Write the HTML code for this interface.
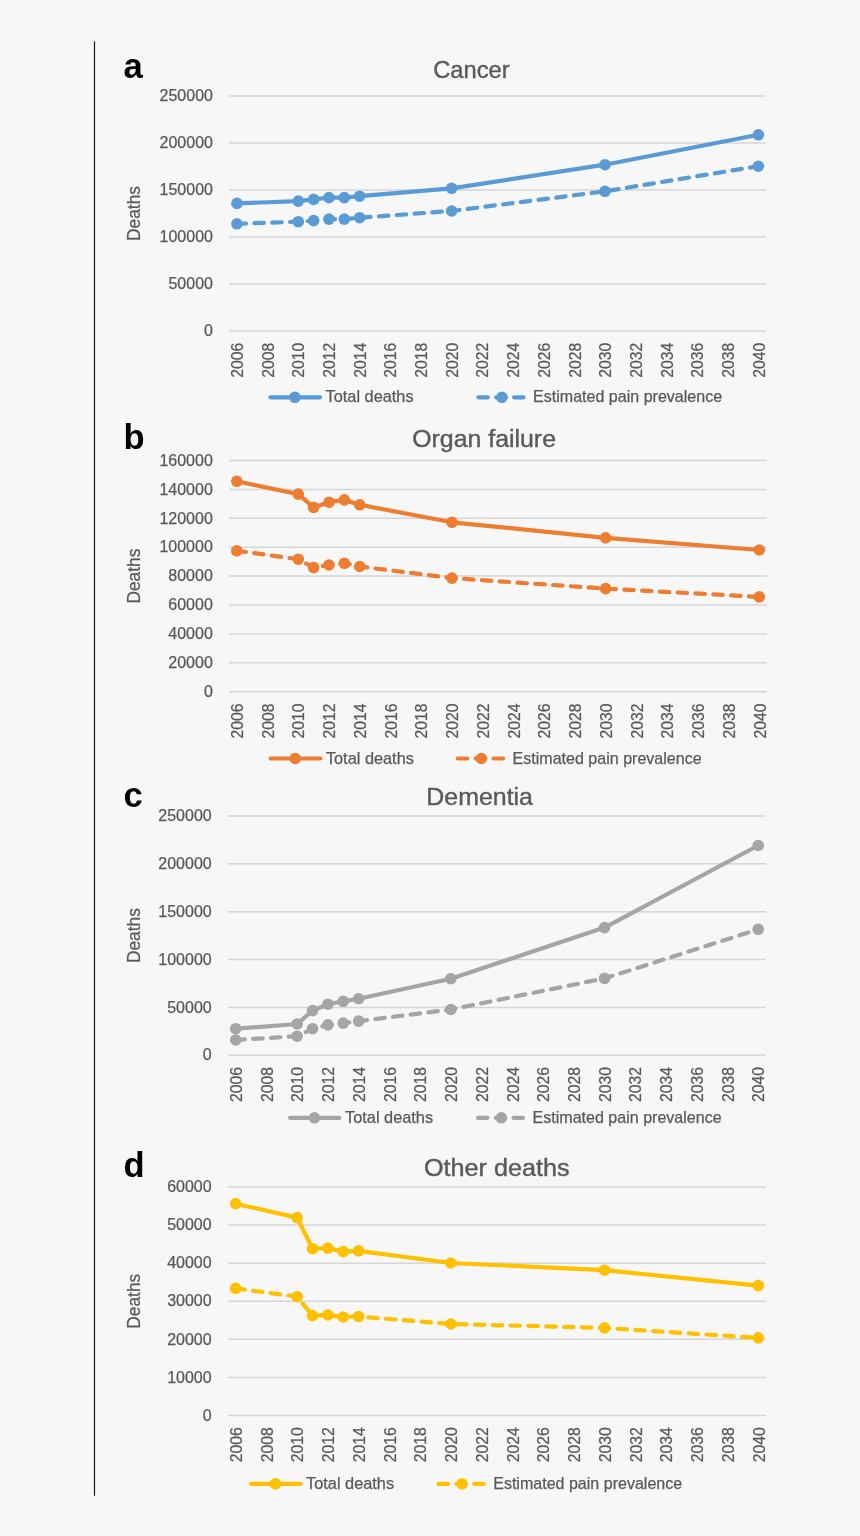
<!DOCTYPE html>
<html lang="en"><head><meta charset="utf-8"><title>Deaths and estimated pain prevalence</title>
<style>html,body{margin:0;padding:0;background:#f7f7f7}body{width:860px;height:1536px;overflow:hidden}svg{display:block}text{font-family:'Liberation Sans', sans-serif;fill:#595959;stroke:#595959;stroke-width:.25px}.b{font-weight:bold;fill:#000;stroke:none}.t{stroke:#595959;stroke-width:.4px}</style>
</head><body>
<svg width="860" height="1536" viewBox="0 0 860 1536">
<rect width="860" height="1536" fill="#f7f7f7"/>
<line x1="94.5" y1="41.2" x2="94.5" y2="1495.8" stroke="#1a1a1a" stroke-width="1.2"/>
<g>
<text class="b" x="123.4" y="77.5" font-size="34.6">a</text>
<text class="t" x="433.2" y="77.5" font-size="24.8" textLength="76.5" lengthAdjust="spacingAndGlyphs">Cancer</text>
<line x1="229.25" y1="96" x2="766" y2="96" stroke="#d6d6d6" stroke-width="1.5"/>
<text x="212.95" y="101.2" font-size="15.8" text-anchor="end" textLength="53.4" lengthAdjust="spacingAndGlyphs">250000</text>
<line x1="229.25" y1="143" x2="766" y2="143" stroke="#d6d6d6" stroke-width="1.5"/>
<text x="212.95" y="148.2" font-size="15.8" text-anchor="end" textLength="53.4" lengthAdjust="spacingAndGlyphs">200000</text>
<line x1="229.25" y1="190" x2="766" y2="190" stroke="#d6d6d6" stroke-width="1.5"/>
<text x="212.95" y="195.2" font-size="15.8" text-anchor="end" textLength="53.4" lengthAdjust="spacingAndGlyphs">150000</text>
<line x1="229.25" y1="237" x2="766" y2="237" stroke="#d6d6d6" stroke-width="1.5"/>
<text x="212.95" y="242.2" font-size="15.8" text-anchor="end" textLength="53.4" lengthAdjust="spacingAndGlyphs">100000</text>
<line x1="229.25" y1="284" x2="766" y2="284" stroke="#d6d6d6" stroke-width="1.5"/>
<text x="212.95" y="289.2" font-size="15.8" text-anchor="end" textLength="44.5" lengthAdjust="spacingAndGlyphs">50000</text>
<line x1="229.25" y1="331" x2="766" y2="331" stroke="#d6d6d6" stroke-width="1.5"/>
<text x="212.95" y="336.2" font-size="15.8" text-anchor="end" textLength="8.9" lengthAdjust="spacingAndGlyphs">0</text>
<text transform="translate(140.3 213.5) rotate(-90)" font-size="18.2" text-anchor="middle" textLength="55" lengthAdjust="spacingAndGlyphs">Deaths</text>
<text transform="translate(243.12 342.7) rotate(-90)" font-size="15.8" text-anchor="end" textLength="35" lengthAdjust="spacingAndGlyphs">2006</text>
<text transform="translate(273.79 342.7) rotate(-90)" font-size="15.8" text-anchor="end" textLength="35" lengthAdjust="spacingAndGlyphs">2008</text>
<text transform="translate(304.46 342.7) rotate(-90)" font-size="15.8" text-anchor="end" textLength="35" lengthAdjust="spacingAndGlyphs">2010</text>
<text transform="translate(335.13 342.7) rotate(-90)" font-size="15.8" text-anchor="end" textLength="35" lengthAdjust="spacingAndGlyphs">2012</text>
<text transform="translate(365.8 342.7) rotate(-90)" font-size="15.8" text-anchor="end" textLength="35" lengthAdjust="spacingAndGlyphs">2014</text>
<text transform="translate(396.47 342.7) rotate(-90)" font-size="15.8" text-anchor="end" textLength="35" lengthAdjust="spacingAndGlyphs">2016</text>
<text transform="translate(427.15 342.7) rotate(-90)" font-size="15.8" text-anchor="end" textLength="35" lengthAdjust="spacingAndGlyphs">2018</text>
<text transform="translate(457.82 342.7) rotate(-90)" font-size="15.8" text-anchor="end" textLength="35" lengthAdjust="spacingAndGlyphs">2020</text>
<text transform="translate(488.49 342.7) rotate(-90)" font-size="15.8" text-anchor="end" textLength="35" lengthAdjust="spacingAndGlyphs">2022</text>
<text transform="translate(519.16 342.7) rotate(-90)" font-size="15.8" text-anchor="end" textLength="35" lengthAdjust="spacingAndGlyphs">2024</text>
<text transform="translate(549.83 342.7) rotate(-90)" font-size="15.8" text-anchor="end" textLength="35" lengthAdjust="spacingAndGlyphs">2026</text>
<text transform="translate(580.5 342.7) rotate(-90)" font-size="15.8" text-anchor="end" textLength="35" lengthAdjust="spacingAndGlyphs">2028</text>
<text transform="translate(611.17 342.7) rotate(-90)" font-size="15.8" text-anchor="end" textLength="35" lengthAdjust="spacingAndGlyphs">2030</text>
<text transform="translate(641.85 342.7) rotate(-90)" font-size="15.8" text-anchor="end" textLength="35" lengthAdjust="spacingAndGlyphs">2032</text>
<text transform="translate(672.52 342.7) rotate(-90)" font-size="15.8" text-anchor="end" textLength="35" lengthAdjust="spacingAndGlyphs">2034</text>
<text transform="translate(703.19 342.7) rotate(-90)" font-size="15.8" text-anchor="end" textLength="35" lengthAdjust="spacingAndGlyphs">2036</text>
<text transform="translate(733.86 342.7) rotate(-90)" font-size="15.8" text-anchor="end" textLength="35" lengthAdjust="spacingAndGlyphs">2038</text>
<text transform="translate(764.53 342.7) rotate(-90)" font-size="15.8" text-anchor="end" textLength="35" lengthAdjust="spacingAndGlyphs">2040</text>
<polyline points="236.92,203.4 298.26,201.1 313.6,199.4 328.93,197.6 344.27,197.6 359.6,196.2 451.62,188.3 604.97,164.7 758.33,134.8" fill="none" stroke="#5b9bd5" stroke-width="4.2" stroke-linecap="round" stroke-linejoin="round"/>
<circle cx="236.92" cy="203.4" r="5.8" fill="#5b9bd5"/>
<circle cx="298.26" cy="201.1" r="5.8" fill="#5b9bd5"/>
<circle cx="313.6" cy="199.4" r="5.8" fill="#5b9bd5"/>
<circle cx="328.93" cy="197.6" r="5.8" fill="#5b9bd5"/>
<circle cx="344.27" cy="197.6" r="5.8" fill="#5b9bd5"/>
<circle cx="359.6" cy="196.2" r="5.8" fill="#5b9bd5"/>
<circle cx="451.62" cy="188.3" r="5.8" fill="#5b9bd5"/>
<circle cx="604.97" cy="164.7" r="5.8" fill="#5b9bd5"/>
<circle cx="758.33" cy="134.8" r="5.8" fill="#5b9bd5"/>
<polyline points="236.92,223.8 298.26,221.7 313.6,220.6 328.93,219.1 344.27,219.1 359.6,217.7 451.62,211 604.97,191.3 758.33,166.2" fill="none" stroke="#5b9bd5" stroke-width="4.2" stroke-linecap="round" stroke-linejoin="round" stroke-dasharray="9.45 8.38" stroke-dashoffset="0.3"/>
<circle cx="236.92" cy="223.8" r="5.8" fill="#5b9bd5"/>
<circle cx="298.26" cy="221.7" r="5.8" fill="#5b9bd5"/>
<circle cx="313.6" cy="220.6" r="5.8" fill="#5b9bd5"/>
<circle cx="328.93" cy="219.1" r="5.8" fill="#5b9bd5"/>
<circle cx="344.27" cy="219.1" r="5.8" fill="#5b9bd5"/>
<circle cx="359.6" cy="217.7" r="5.8" fill="#5b9bd5"/>
<circle cx="451.62" cy="211" r="5.8" fill="#5b9bd5"/>
<circle cx="604.97" cy="191.3" r="5.8" fill="#5b9bd5"/>
<circle cx="758.33" cy="166.2" r="5.8" fill="#5b9bd5"/>
<line x1="270.5" y1="397.3" x2="320" y2="397.3" stroke="#5b9bd5" stroke-width="4.2" stroke-linecap="round"/>
<circle cx="294.9" cy="397.3" r="5.8" fill="#5b9bd5"/>
<text x="325.6" y="402.4" font-size="15.9" textLength="88" lengthAdjust="spacingAndGlyphs">Total deaths</text>
<line x1="478.4" y1="397.3" x2="527.9" y2="397.3" stroke="#5b9bd5" stroke-width="4.2" stroke-linecap="round" stroke-dasharray="9.45 8.38"/>
<circle cx="501.9" cy="397.3" r="5.8" fill="#5b9bd5"/>
<text x="533.1" y="402.4" font-size="15.9" textLength="189" lengthAdjust="spacingAndGlyphs">Estimated pain prevalence</text>
</g>
<g>
<text class="b" x="123.4" y="448.5" font-size="34.6">b</text>
<text class="t" x="412.2" y="447" font-size="24.8" textLength="143.8" lengthAdjust="spacingAndGlyphs">Organ failure</text>
<line x1="229.1" y1="460.5" x2="767" y2="460.5" stroke="#d6d6d6" stroke-width="1.5"/>
<text x="212.8" y="465.7" font-size="15.8" text-anchor="end" textLength="53.4" lengthAdjust="spacingAndGlyphs">160000</text>
<line x1="229.1" y1="489.4" x2="767" y2="489.4" stroke="#d6d6d6" stroke-width="1.5"/>
<text x="212.8" y="494.6" font-size="15.8" text-anchor="end" textLength="53.4" lengthAdjust="spacingAndGlyphs">140000</text>
<line x1="229.1" y1="518.3" x2="767" y2="518.3" stroke="#d6d6d6" stroke-width="1.5"/>
<text x="212.8" y="523.5" font-size="15.8" text-anchor="end" textLength="53.4" lengthAdjust="spacingAndGlyphs">120000</text>
<line x1="229.1" y1="547.2" x2="767" y2="547.2" stroke="#d6d6d6" stroke-width="1.5"/>
<text x="212.8" y="552.4" font-size="15.8" text-anchor="end" textLength="53.4" lengthAdjust="spacingAndGlyphs">100000</text>
<line x1="229.1" y1="576.1" x2="767" y2="576.1" stroke="#d6d6d6" stroke-width="1.5"/>
<text x="212.8" y="581.3" font-size="15.8" text-anchor="end" textLength="44.5" lengthAdjust="spacingAndGlyphs">80000</text>
<line x1="229.1" y1="605" x2="767" y2="605" stroke="#d6d6d6" stroke-width="1.5"/>
<text x="212.8" y="610.2" font-size="15.8" text-anchor="end" textLength="44.5" lengthAdjust="spacingAndGlyphs">60000</text>
<line x1="229.1" y1="633.9" x2="767" y2="633.9" stroke="#d6d6d6" stroke-width="1.5"/>
<text x="212.8" y="639.1" font-size="15.8" text-anchor="end" textLength="44.5" lengthAdjust="spacingAndGlyphs">40000</text>
<line x1="229.1" y1="662.8" x2="767" y2="662.8" stroke="#d6d6d6" stroke-width="1.5"/>
<text x="212.8" y="668" font-size="15.8" text-anchor="end" textLength="44.5" lengthAdjust="spacingAndGlyphs">20000</text>
<line x1="229.1" y1="691.7" x2="767" y2="691.7" stroke="#d6d6d6" stroke-width="1.5"/>
<text x="212.8" y="696.9" font-size="15.8" text-anchor="end" textLength="8.9" lengthAdjust="spacingAndGlyphs">0</text>
<text transform="translate(140.3 576.1) rotate(-90)" font-size="18.2" text-anchor="middle" textLength="55" lengthAdjust="spacingAndGlyphs">Deaths</text>
<text transform="translate(242.98 703.4) rotate(-90)" font-size="15.8" text-anchor="end" textLength="35" lengthAdjust="spacingAndGlyphs">2006</text>
<text transform="translate(273.72 703.4) rotate(-90)" font-size="15.8" text-anchor="end" textLength="35" lengthAdjust="spacingAndGlyphs">2008</text>
<text transform="translate(304.46 703.4) rotate(-90)" font-size="15.8" text-anchor="end" textLength="35" lengthAdjust="spacingAndGlyphs">2010</text>
<text transform="translate(335.2 703.4) rotate(-90)" font-size="15.8" text-anchor="end" textLength="35" lengthAdjust="spacingAndGlyphs">2012</text>
<text transform="translate(365.93 703.4) rotate(-90)" font-size="15.8" text-anchor="end" textLength="35" lengthAdjust="spacingAndGlyphs">2014</text>
<text transform="translate(396.67 703.4) rotate(-90)" font-size="15.8" text-anchor="end" textLength="35" lengthAdjust="spacingAndGlyphs">2016</text>
<text transform="translate(427.41 703.4) rotate(-90)" font-size="15.8" text-anchor="end" textLength="35" lengthAdjust="spacingAndGlyphs">2018</text>
<text transform="translate(458.14 703.4) rotate(-90)" font-size="15.8" text-anchor="end" textLength="35" lengthAdjust="spacingAndGlyphs">2020</text>
<text transform="translate(488.88 703.4) rotate(-90)" font-size="15.8" text-anchor="end" textLength="35" lengthAdjust="spacingAndGlyphs">2022</text>
<text transform="translate(519.62 703.4) rotate(-90)" font-size="15.8" text-anchor="end" textLength="35" lengthAdjust="spacingAndGlyphs">2024</text>
<text transform="translate(550.36 703.4) rotate(-90)" font-size="15.8" text-anchor="end" textLength="35" lengthAdjust="spacingAndGlyphs">2026</text>
<text transform="translate(581.09 703.4) rotate(-90)" font-size="15.8" text-anchor="end" textLength="35" lengthAdjust="spacingAndGlyphs">2028</text>
<text transform="translate(611.83 703.4) rotate(-90)" font-size="15.8" text-anchor="end" textLength="35" lengthAdjust="spacingAndGlyphs">2030</text>
<text transform="translate(642.57 703.4) rotate(-90)" font-size="15.8" text-anchor="end" textLength="35" lengthAdjust="spacingAndGlyphs">2032</text>
<text transform="translate(673.3 703.4) rotate(-90)" font-size="15.8" text-anchor="end" textLength="35" lengthAdjust="spacingAndGlyphs">2034</text>
<text transform="translate(704.04 703.4) rotate(-90)" font-size="15.8" text-anchor="end" textLength="35" lengthAdjust="spacingAndGlyphs">2036</text>
<text transform="translate(734.78 703.4) rotate(-90)" font-size="15.8" text-anchor="end" textLength="35" lengthAdjust="spacingAndGlyphs">2038</text>
<text transform="translate(765.52 703.4) rotate(-90)" font-size="15.8" text-anchor="end" textLength="35" lengthAdjust="spacingAndGlyphs">2040</text>
<polyline points="236.78,481.3 298.26,494.1 313.63,507.4 329,502.2 344.36,499.9 359.73,504.8 451.94,522.3 605.63,537.8 759.32,550" fill="none" stroke="#ed7d31" stroke-width="4.2" stroke-linecap="round" stroke-linejoin="round"/>
<circle cx="236.78" cy="481.3" r="5.8" fill="#ed7d31"/>
<circle cx="298.26" cy="494.1" r="5.8" fill="#ed7d31"/>
<circle cx="313.63" cy="507.4" r="5.8" fill="#ed7d31"/>
<circle cx="329" cy="502.2" r="5.8" fill="#ed7d31"/>
<circle cx="344.36" cy="499.9" r="5.8" fill="#ed7d31"/>
<circle cx="359.73" cy="504.8" r="5.8" fill="#ed7d31"/>
<circle cx="451.94" cy="522.3" r="5.8" fill="#ed7d31"/>
<circle cx="605.63" cy="537.8" r="5.8" fill="#ed7d31"/>
<circle cx="759.32" cy="550" r="5.8" fill="#ed7d31"/>
<polyline points="236.78,550.8 298.26,559.2 313.63,567.6 329,565 344.36,563.3 359.73,566.5 451.94,578.1 605.63,588.6 759.32,596.9" fill="none" stroke="#ed7d31" stroke-width="4.2" stroke-linecap="round" stroke-linejoin="round" stroke-dasharray="9.45 8.38" stroke-dashoffset="0.3"/>
<circle cx="236.78" cy="550.8" r="5.8" fill="#ed7d31"/>
<circle cx="298.26" cy="559.2" r="5.8" fill="#ed7d31"/>
<circle cx="313.63" cy="567.6" r="5.8" fill="#ed7d31"/>
<circle cx="329" cy="565" r="5.8" fill="#ed7d31"/>
<circle cx="344.36" cy="563.3" r="5.8" fill="#ed7d31"/>
<circle cx="359.73" cy="566.5" r="5.8" fill="#ed7d31"/>
<circle cx="451.94" cy="578.1" r="5.8" fill="#ed7d31"/>
<circle cx="605.63" cy="588.6" r="5.8" fill="#ed7d31"/>
<circle cx="759.32" cy="596.9" r="5.8" fill="#ed7d31"/>
<line x1="270.8" y1="758.5" x2="320.3" y2="758.5" stroke="#ed7d31" stroke-width="4.2" stroke-linecap="round"/>
<circle cx="295.2" cy="758.5" r="5.8" fill="#ed7d31"/>
<text x="325.9" y="763.6" font-size="15.9" textLength="88" lengthAdjust="spacingAndGlyphs">Total deaths</text>
<line x1="457.9" y1="758.5" x2="507.4" y2="758.5" stroke="#ed7d31" stroke-width="4.2" stroke-linecap="round" stroke-dasharray="9.45 8.38"/>
<circle cx="481.4" cy="758.5" r="5.8" fill="#ed7d31"/>
<text x="512.6" y="763.6" font-size="15.9" textLength="189" lengthAdjust="spacingAndGlyphs">Estimated pain prevalence</text>
</g>
<g>
<text class="b" x="123.4" y="806.5" font-size="34.6">c</text>
<text class="t" x="426.3" y="805.3" font-size="24.8" textLength="106.7" lengthAdjust="spacingAndGlyphs">Dementia</text>
<line x1="228" y1="816" x2="765.9" y2="816" stroke="#d6d6d6" stroke-width="1.5"/>
<text x="211.7" y="821.2" font-size="15.8" text-anchor="end" textLength="53.4" lengthAdjust="spacingAndGlyphs">250000</text>
<line x1="228" y1="863.85" x2="765.9" y2="863.85" stroke="#d6d6d6" stroke-width="1.5"/>
<text x="211.7" y="869.05" font-size="15.8" text-anchor="end" textLength="53.4" lengthAdjust="spacingAndGlyphs">200000</text>
<line x1="228" y1="911.7" x2="765.9" y2="911.7" stroke="#d6d6d6" stroke-width="1.5"/>
<text x="211.7" y="916.9" font-size="15.8" text-anchor="end" textLength="53.4" lengthAdjust="spacingAndGlyphs">150000</text>
<line x1="228" y1="959.55" x2="765.9" y2="959.55" stroke="#d6d6d6" stroke-width="1.5"/>
<text x="211.7" y="964.75" font-size="15.8" text-anchor="end" textLength="53.4" lengthAdjust="spacingAndGlyphs">100000</text>
<line x1="228" y1="1007.4" x2="765.9" y2="1007.4" stroke="#d6d6d6" stroke-width="1.5"/>
<text x="211.7" y="1012.6" font-size="15.8" text-anchor="end" textLength="44.5" lengthAdjust="spacingAndGlyphs">50000</text>
<line x1="228" y1="1055.25" x2="765.9" y2="1055.25" stroke="#d6d6d6" stroke-width="1.5"/>
<text x="211.7" y="1060.45" font-size="15.8" text-anchor="end" textLength="8.9" lengthAdjust="spacingAndGlyphs">0</text>
<text transform="translate(140.3 935.62) rotate(-90)" font-size="18.2" text-anchor="middle" textLength="55" lengthAdjust="spacingAndGlyphs">Deaths</text>
<text transform="translate(241.88 1066.95) rotate(-90)" font-size="15.8" text-anchor="end" textLength="35" lengthAdjust="spacingAndGlyphs">2006</text>
<text transform="translate(272.62 1066.95) rotate(-90)" font-size="15.8" text-anchor="end" textLength="35" lengthAdjust="spacingAndGlyphs">2008</text>
<text transform="translate(303.36 1066.95) rotate(-90)" font-size="15.8" text-anchor="end" textLength="35" lengthAdjust="spacingAndGlyphs">2010</text>
<text transform="translate(334.1 1066.95) rotate(-90)" font-size="15.8" text-anchor="end" textLength="35" lengthAdjust="spacingAndGlyphs">2012</text>
<text transform="translate(364.83 1066.95) rotate(-90)" font-size="15.8" text-anchor="end" textLength="35" lengthAdjust="spacingAndGlyphs">2014</text>
<text transform="translate(395.57 1066.95) rotate(-90)" font-size="15.8" text-anchor="end" textLength="35" lengthAdjust="spacingAndGlyphs">2016</text>
<text transform="translate(426.31 1066.95) rotate(-90)" font-size="15.8" text-anchor="end" textLength="35" lengthAdjust="spacingAndGlyphs">2018</text>
<text transform="translate(457.04 1066.95) rotate(-90)" font-size="15.8" text-anchor="end" textLength="35" lengthAdjust="spacingAndGlyphs">2020</text>
<text transform="translate(487.78 1066.95) rotate(-90)" font-size="15.8" text-anchor="end" textLength="35" lengthAdjust="spacingAndGlyphs">2022</text>
<text transform="translate(518.52 1066.95) rotate(-90)" font-size="15.8" text-anchor="end" textLength="35" lengthAdjust="spacingAndGlyphs">2024</text>
<text transform="translate(549.26 1066.95) rotate(-90)" font-size="15.8" text-anchor="end" textLength="35" lengthAdjust="spacingAndGlyphs">2026</text>
<text transform="translate(579.99 1066.95) rotate(-90)" font-size="15.8" text-anchor="end" textLength="35" lengthAdjust="spacingAndGlyphs">2028</text>
<text transform="translate(610.73 1066.95) rotate(-90)" font-size="15.8" text-anchor="end" textLength="35" lengthAdjust="spacingAndGlyphs">2030</text>
<text transform="translate(641.47 1066.95) rotate(-90)" font-size="15.8" text-anchor="end" textLength="35" lengthAdjust="spacingAndGlyphs">2032</text>
<text transform="translate(672.2 1066.95) rotate(-90)" font-size="15.8" text-anchor="end" textLength="35" lengthAdjust="spacingAndGlyphs">2034</text>
<text transform="translate(702.94 1066.95) rotate(-90)" font-size="15.8" text-anchor="end" textLength="35" lengthAdjust="spacingAndGlyphs">2036</text>
<text transform="translate(733.68 1066.95) rotate(-90)" font-size="15.8" text-anchor="end" textLength="35" lengthAdjust="spacingAndGlyphs">2038</text>
<text transform="translate(764.42 1066.95) rotate(-90)" font-size="15.8" text-anchor="end" textLength="35" lengthAdjust="spacingAndGlyphs">2040</text>
<polyline points="235.68,1028.7 297.16,1024 312.53,1010.6 327.9,1004.2 343.26,1001.3 358.63,998.7 450.84,978.7 604.53,927.6 758.22,845.5" fill="none" stroke="#a5a5a5" stroke-width="4.2" stroke-linecap="round" stroke-linejoin="round"/>
<circle cx="235.68" cy="1028.7" r="5.8" fill="#a5a5a5"/>
<circle cx="297.16" cy="1024" r="5.8" fill="#a5a5a5"/>
<circle cx="312.53" cy="1010.6" r="5.8" fill="#a5a5a5"/>
<circle cx="327.9" cy="1004.2" r="5.8" fill="#a5a5a5"/>
<circle cx="343.26" cy="1001.3" r="5.8" fill="#a5a5a5"/>
<circle cx="358.63" cy="998.7" r="5.8" fill="#a5a5a5"/>
<circle cx="450.84" cy="978.7" r="5.8" fill="#a5a5a5"/>
<circle cx="604.53" cy="927.6" r="5.8" fill="#a5a5a5"/>
<circle cx="758.22" cy="845.5" r="5.8" fill="#a5a5a5"/>
<polyline points="235.68,1040 297.16,1036.2 312.53,1028.7 327.9,1024.9 343.26,1023.1 358.63,1021.1 450.84,1009.5 604.53,978.4 758.22,929.3" fill="none" stroke="#a5a5a5" stroke-width="4.2" stroke-linecap="round" stroke-linejoin="round" stroke-dasharray="9.45 8.38" stroke-dashoffset="0.3"/>
<circle cx="235.68" cy="1040" r="5.8" fill="#a5a5a5"/>
<circle cx="297.16" cy="1036.2" r="5.8" fill="#a5a5a5"/>
<circle cx="312.53" cy="1028.7" r="5.8" fill="#a5a5a5"/>
<circle cx="327.9" cy="1024.9" r="5.8" fill="#a5a5a5"/>
<circle cx="343.26" cy="1023.1" r="5.8" fill="#a5a5a5"/>
<circle cx="358.63" cy="1021.1" r="5.8" fill="#a5a5a5"/>
<circle cx="450.84" cy="1009.5" r="5.8" fill="#a5a5a5"/>
<circle cx="604.53" cy="978.4" r="5.8" fill="#a5a5a5"/>
<circle cx="758.22" cy="929.3" r="5.8" fill="#a5a5a5"/>
<line x1="290" y1="1117.8" x2="339.5" y2="1117.8" stroke="#a5a5a5" stroke-width="4.2" stroke-linecap="round"/>
<circle cx="314.4" cy="1117.8" r="5.8" fill="#a5a5a5"/>
<text x="345.1" y="1122.9" font-size="15.9" textLength="88" lengthAdjust="spacingAndGlyphs">Total deaths</text>
<line x1="477.9" y1="1117.8" x2="527.4" y2="1117.8" stroke="#a5a5a5" stroke-width="4.2" stroke-linecap="round" stroke-dasharray="9.45 8.38"/>
<circle cx="501.4" cy="1117.8" r="5.8" fill="#a5a5a5"/>
<text x="532.6" y="1122.9" font-size="15.9" textLength="189" lengthAdjust="spacingAndGlyphs">Estimated pain prevalence</text>
</g>
<g>
<text class="b" x="123.4" y="1176.5" font-size="34.6">d</text>
<text class="t" x="424" y="1175.6" font-size="24.8" textLength="145.6" lengthAdjust="spacingAndGlyphs">Other deaths</text>
<line x1="227.95" y1="1187" x2="766" y2="1187" stroke="#d6d6d6" stroke-width="1.5"/>
<text x="211.65" y="1192.2" font-size="15.8" text-anchor="end" textLength="44.5" lengthAdjust="spacingAndGlyphs">60000</text>
<line x1="227.95" y1="1225.1" x2="766" y2="1225.1" stroke="#d6d6d6" stroke-width="1.5"/>
<text x="211.65" y="1230.3" font-size="15.8" text-anchor="end" textLength="44.5" lengthAdjust="spacingAndGlyphs">50000</text>
<line x1="227.95" y1="1263.2" x2="766" y2="1263.2" stroke="#d6d6d6" stroke-width="1.5"/>
<text x="211.65" y="1268.4" font-size="15.8" text-anchor="end" textLength="44.5" lengthAdjust="spacingAndGlyphs">40000</text>
<line x1="227.95" y1="1301.2" x2="766" y2="1301.2" stroke="#d6d6d6" stroke-width="1.5"/>
<text x="211.65" y="1306.4" font-size="15.8" text-anchor="end" textLength="44.5" lengthAdjust="spacingAndGlyphs">30000</text>
<line x1="227.95" y1="1339.3" x2="766" y2="1339.3" stroke="#d6d6d6" stroke-width="1.5"/>
<text x="211.65" y="1344.5" font-size="15.8" text-anchor="end" textLength="44.5" lengthAdjust="spacingAndGlyphs">20000</text>
<line x1="227.95" y1="1377.4" x2="766" y2="1377.4" stroke="#d6d6d6" stroke-width="1.5"/>
<text x="211.65" y="1382.6" font-size="15.8" text-anchor="end" textLength="44.5" lengthAdjust="spacingAndGlyphs">10000</text>
<line x1="227.95" y1="1415.5" x2="766" y2="1415.5" stroke="#d6d6d6" stroke-width="1.5"/>
<text x="211.65" y="1420.7" font-size="15.8" text-anchor="end" textLength="8.9" lengthAdjust="spacingAndGlyphs">0</text>
<text transform="translate(140.3 1301.25) rotate(-90)" font-size="18.2" text-anchor="middle" textLength="55" lengthAdjust="spacingAndGlyphs">Deaths</text>
<text transform="translate(241.84 1427.2) rotate(-90)" font-size="15.8" text-anchor="end" textLength="35" lengthAdjust="spacingAndGlyphs">2006</text>
<text transform="translate(272.58 1427.2) rotate(-90)" font-size="15.8" text-anchor="end" textLength="35" lengthAdjust="spacingAndGlyphs">2008</text>
<text transform="translate(303.33 1427.2) rotate(-90)" font-size="15.8" text-anchor="end" textLength="35" lengthAdjust="spacingAndGlyphs">2010</text>
<text transform="translate(334.07 1427.2) rotate(-90)" font-size="15.8" text-anchor="end" textLength="35" lengthAdjust="spacingAndGlyphs">2012</text>
<text transform="translate(364.82 1427.2) rotate(-90)" font-size="15.8" text-anchor="end" textLength="35" lengthAdjust="spacingAndGlyphs">2014</text>
<text transform="translate(395.56 1427.2) rotate(-90)" font-size="15.8" text-anchor="end" textLength="35" lengthAdjust="spacingAndGlyphs">2016</text>
<text transform="translate(426.31 1427.2) rotate(-90)" font-size="15.8" text-anchor="end" textLength="35" lengthAdjust="spacingAndGlyphs">2018</text>
<text transform="translate(457.06 1427.2) rotate(-90)" font-size="15.8" text-anchor="end" textLength="35" lengthAdjust="spacingAndGlyphs">2020</text>
<text transform="translate(487.8 1427.2) rotate(-90)" font-size="15.8" text-anchor="end" textLength="35" lengthAdjust="spacingAndGlyphs">2022</text>
<text transform="translate(518.55 1427.2) rotate(-90)" font-size="15.8" text-anchor="end" textLength="35" lengthAdjust="spacingAndGlyphs">2024</text>
<text transform="translate(549.29 1427.2) rotate(-90)" font-size="15.8" text-anchor="end" textLength="35" lengthAdjust="spacingAndGlyphs">2026</text>
<text transform="translate(580.04 1427.2) rotate(-90)" font-size="15.8" text-anchor="end" textLength="35" lengthAdjust="spacingAndGlyphs">2028</text>
<text transform="translate(610.78 1427.2) rotate(-90)" font-size="15.8" text-anchor="end" textLength="35" lengthAdjust="spacingAndGlyphs">2030</text>
<text transform="translate(641.53 1427.2) rotate(-90)" font-size="15.8" text-anchor="end" textLength="35" lengthAdjust="spacingAndGlyphs">2032</text>
<text transform="translate(672.28 1427.2) rotate(-90)" font-size="15.8" text-anchor="end" textLength="35" lengthAdjust="spacingAndGlyphs">2034</text>
<text transform="translate(703.02 1427.2) rotate(-90)" font-size="15.8" text-anchor="end" textLength="35" lengthAdjust="spacingAndGlyphs">2036</text>
<text transform="translate(733.77 1427.2) rotate(-90)" font-size="15.8" text-anchor="end" textLength="35" lengthAdjust="spacingAndGlyphs">2038</text>
<text transform="translate(764.51 1427.2) rotate(-90)" font-size="15.8" text-anchor="end" textLength="35" lengthAdjust="spacingAndGlyphs">2040</text>
<polyline points="235.64,1203.7 297.13,1217.6 312.5,1248.7 327.87,1248.1 343.25,1251.6 358.62,1250.8 450.86,1263 604.58,1270.2 758.31,1285.6" fill="none" stroke="#ffc000" stroke-width="4.2" stroke-linecap="round" stroke-linejoin="round"/>
<circle cx="235.64" cy="1203.7" r="5.8" fill="#ffc000"/>
<circle cx="297.13" cy="1217.6" r="5.8" fill="#ffc000"/>
<circle cx="312.5" cy="1248.7" r="5.8" fill="#ffc000"/>
<circle cx="327.87" cy="1248.1" r="5.8" fill="#ffc000"/>
<circle cx="343.25" cy="1251.6" r="5.8" fill="#ffc000"/>
<circle cx="358.62" cy="1250.8" r="5.8" fill="#ffc000"/>
<circle cx="450.86" cy="1263" r="5.8" fill="#ffc000"/>
<circle cx="604.58" cy="1270.2" r="5.8" fill="#ffc000"/>
<circle cx="758.31" cy="1285.6" r="5.8" fill="#ffc000"/>
<polyline points="235.64,1288.4 297.13,1296.7 312.5,1315.6 327.87,1315 343.25,1317 358.62,1316.5 450.86,1324 604.58,1327.9 758.31,1337.9" fill="none" stroke="#ffc000" stroke-width="4.2" stroke-linecap="round" stroke-linejoin="round" stroke-dasharray="9.45 8.38" stroke-dashoffset="0.3"/>
<circle cx="235.64" cy="1288.4" r="5.8" fill="#ffc000"/>
<circle cx="297.13" cy="1296.7" r="5.8" fill="#ffc000"/>
<circle cx="312.5" cy="1315.6" r="5.8" fill="#ffc000"/>
<circle cx="327.87" cy="1315" r="5.8" fill="#ffc000"/>
<circle cx="343.25" cy="1317" r="5.8" fill="#ffc000"/>
<circle cx="358.62" cy="1316.5" r="5.8" fill="#ffc000"/>
<circle cx="450.86" cy="1324" r="5.8" fill="#ffc000"/>
<circle cx="604.58" cy="1327.9" r="5.8" fill="#ffc000"/>
<circle cx="758.31" cy="1337.9" r="5.8" fill="#ffc000"/>
<line x1="251" y1="1483.8" x2="300.5" y2="1483.8" stroke="#ffc000" stroke-width="4.2" stroke-linecap="round"/>
<circle cx="275.4" cy="1483.8" r="5.8" fill="#ffc000"/>
<text x="306.1" y="1488.9" font-size="15.9" textLength="88" lengthAdjust="spacingAndGlyphs">Total deaths</text>
<line x1="438.5" y1="1483.8" x2="488" y2="1483.8" stroke="#ffc000" stroke-width="4.2" stroke-linecap="round" stroke-dasharray="9.45 8.38"/>
<circle cx="462" cy="1483.8" r="5.8" fill="#ffc000"/>
<text x="493.2" y="1488.9" font-size="15.9" textLength="189" lengthAdjust="spacingAndGlyphs">Estimated pain prevalence</text>
</g>
</svg>
</body></html>
